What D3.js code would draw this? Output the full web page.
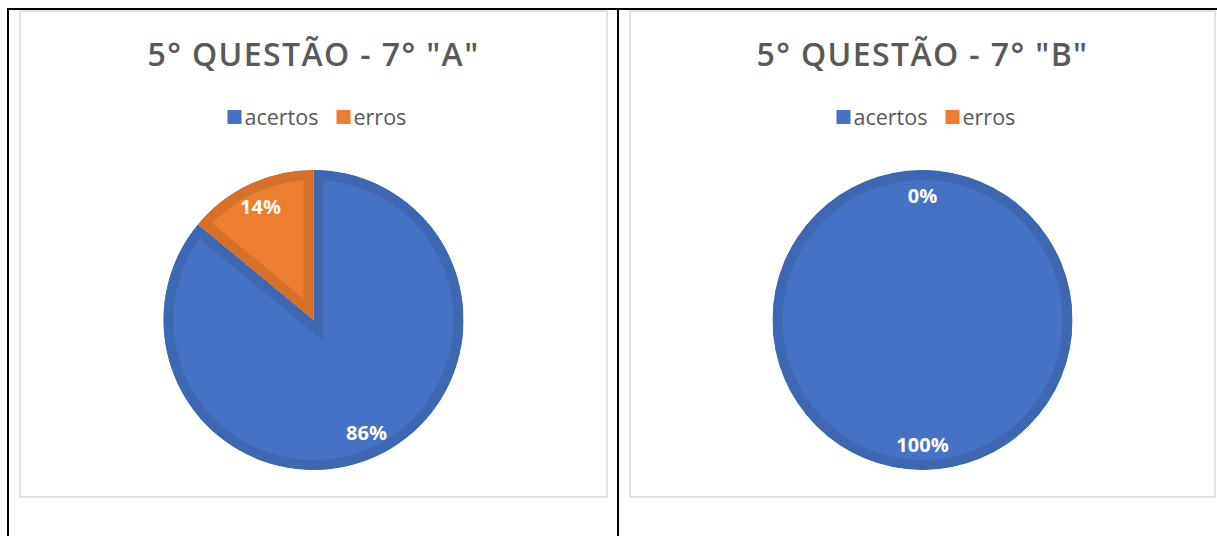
<!DOCTYPE html>
<html>
<head>
<meta charset="utf-8">
<script src="https://cdn.jsdelivr.net/npm/d3@7"></script>
<style>
  body { margin: 0; background: #fff; }
  svg { display: block; }
</style>
</head>
<body>
<div id="vis"></div>
<script>
// data
var titles = ['5° QUESTÃO - 7° "A"', '5° QUESTÃO - 7° "B"'];
var categories = ["acertos", "erros"];
var valuesA = [86, 14];
var valuesB = [100, 0];
var labelsA = ["86%", "14%"];
var labelsB = ["100%", "0%"];

var width = 1217, height = 536;
var fills = ["#4472C4", "#ED7D31"];
var edges = ["#3E67B1", "#D5702B"];

var svg = d3.select("#vis").append("svg")
    .attr("width", width)
    .attr("height", height);

// table borders
svg.append("line").attr("x1", 7).attr("x2", width).attr("y1", 9).attr("y2", 9)
    .attr("stroke", "#000").attr("stroke-width", 2);
svg.append("line").attr("x1", 8).attr("x2", 8).attr("y1", 8).attr("y2", height)
    .attr("stroke", "#000").attr("stroke-width", 2);
svg.append("line").attr("x1", 618).attr("x2", 618).attr("y1", 8).attr("y2", height)
    .attr("stroke", "#000").attr("stroke-width", 2);

var charts = [
  {title: titles[0], values: valuesA, labels: labelsA, box: [20, 11, 607, 497]},
  {title: titles[1], values: valuesB, labels: labelsB, box: [630, 11, 1215, 497]}
];

var radius = 150;
var pie = d3.pie().sort(null);
var arc = d3.arc().innerRadius(0).outerRadius(radius);

charts.forEach(function(c, ci){
  var b = c.box;
  var cx = (b[0] + b[2]) / 2;
  var g = svg.append("g");

  g.append("rect")
    .attr("x", b[0]).attr("y", b[1])
    .attr("width", b[2] - b[0]).attr("height", b[3] - b[1])
    .attr("fill", "#fff").attr("stroke", "#d9d9d9").attr("stroke-width", 1.5);

  // title
  g.append("text")
    .attr("x", cx).attr("y", 66)
    .attr("text-anchor", "middle")
    .style("font-family", "'Open Sans', sans-serif")
    .style("font-weight", 600)
    .style("font-size", "32px")
    .style("letter-spacing", "1.4px")
    .attr("fill", "#595959")
    .text(c.title);

  // legend
  var lg = g.append("g").attr("transform", "translate(" + (cx - 86) + ",0)");
  var legX = [0, 109];
  categories.forEach(function(cat, i){
    lg.append("rect")
      .attr("x", legX[i]).attr("y", 110)
      .attr("width", 14).attr("height", 14)
      .attr("fill", fills[i]);
    lg.append("text")
      .attr("x", legX[i] + 17).attr("y", 125)
      .style("font-family", "'Open Sans', sans-serif")
      .style("font-size", "21.5px")
      .attr("fill", "#595959")
      .text(cat);
  });

  // pie
  var pg = g.append("g").attr("transform", "translate(" + cx + ",320)");
  var arcs = pie(c.values);
  arcs.forEach(function(d, i){
    if (d.endAngle - d.startAngle <= 0) return;
    var id = "clip" + ci + "_" + i;
    pg.append("clipPath").attr("id", id)
      .append("path").attr("d", arc(d));
    pg.append("path")
      .attr("d", arc(d))
      .attr("fill", fills[i])
      .attr("stroke", edges[i])
      .attr("stroke-width", 20)
      .attr("clip-path", "url(#" + id + ")");
  });

  var labelArc = d3.arc().innerRadius(radius * 0.83).outerRadius(radius * 0.83);
  arcs.forEach(function(d, i){
    var p = labelArc.centroid(d);
    pg.append("text")
      .attr("x", p[0]).attr("y", p[1])
      .attr("text-anchor", "middle")
      .attr("dy", "0.35em")
      .style("font-family", "'Open Sans', sans-serif")
      .style("font-weight", 700)
      .style("font-size", "20px")
      .attr("fill", "#fff")
      .text(c.labels[i]);
  });
});
</script>
</body>
</html>
